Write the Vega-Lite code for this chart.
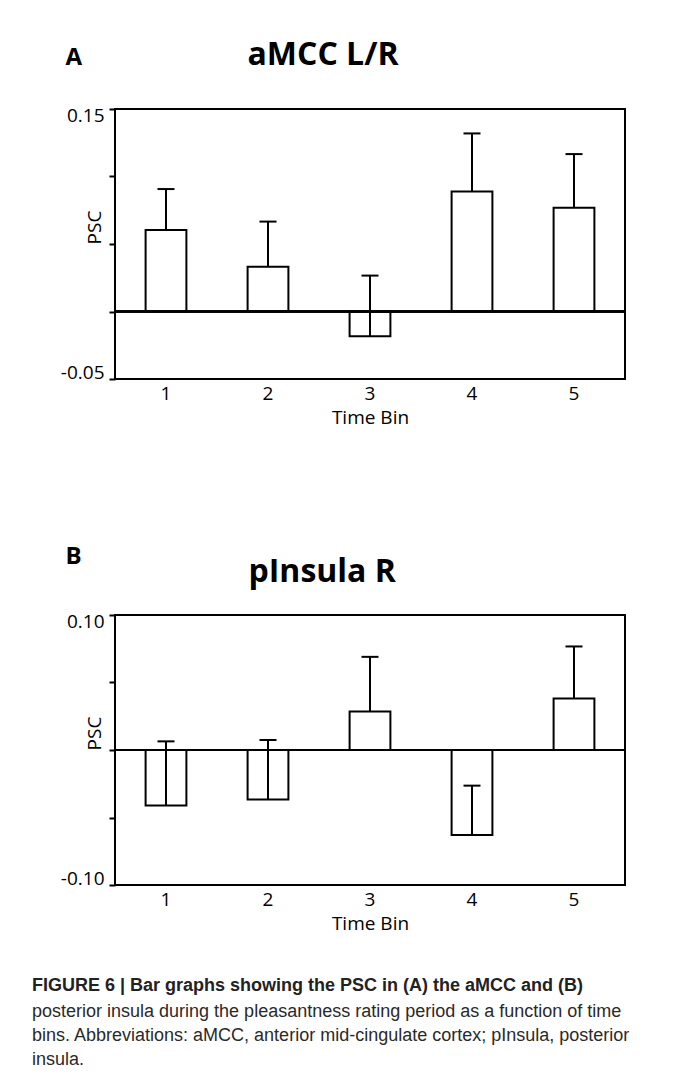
{
  "$schema": "https://vega.github.io/schema/vega-lite/v6.json",
  "background": "white",
  "padding": {"left": 32, "top": 37, "right": 10, "bottom": 3},
  "config": {
    "view": {"stroke": "black", "strokeWidth": 2},
    "font": "Open Sans",
    "axis": {
      "labelFont": "Open Sans", "labelFontSize": 19, "labelColor": "black",
      "titleFont": "Open Sans", "titleFontSize": 19, "titleFontWeight": "normal", "titleColor": "black",
      "grid": false
    }
  },
  "datasets": {
    "psc": [
      {"region": "A", "bin": 1, "psc": 0.0604, "upper": 0.0907},
      {"region": "A", "bin": 2, "psc": 0.0331, "upper": 0.0666},
      {"region": "A", "bin": 3, "psc": -0.0183, "upper": 0.0266},
      {"region": "A", "bin": 4, "psc": 0.0888, "upper": 0.1319},
      {"region": "A", "bin": 5, "psc": 0.0769, "upper": 0.1166},
      {"region": "B", "bin": 1, "psc": -0.0412, "upper": 0.0064},
      {"region": "B", "bin": 2, "psc": -0.0367, "upper": 0.0074},
      {"region": "B", "bin": 3, "psc": 0.0286, "upper": 0.0690},
      {"region": "B", "bin": 4, "psc": -0.0629, "upper": -0.0264},
      {"region": "B", "bin": 5, "psc": 0.0382, "upper": 0.0767}
    ]
  },
  "title": {
    "text": "FIGURE 6 | Bar graphs showing the PSC in (A) the aMCC and (B)",
    "subtitle": [
      "posterior insula during the pleasantness rating period as a function of time",
      "bins. Abbreviations: aMCC, anterior mid-cingulate cortex; pInsula, posterior",
      "insula."
    ],
    "orient": "bottom", "anchor": "start", "frame": "group", "dx": -83, "offset": 43,
    "font": "Liberation Sans", "fontSize": 18, "fontWeight": "bold", "color": "#222222",
    "subtitleFont": "Liberation Sans", "subtitleFontSize": 18, "subtitleFontWeight": "normal",
    "subtitleColor": "#2a2a2a", "subtitleLineHeight": 24, "subtitlePadding": 8
  },
  "spacing": 115,
  "vconcat": [
    {
      "width": 510, "height": 270,
      "data": {"name": "psc"},
      "transform": [{"filter": "datum.region == 'A'"}],
      "layer": [
        {
          "mark": {"type": "bar", "fill": "white", "stroke": "black", "strokeWidth": 2},
          "encoding": {
            "x": {"field": "bin", "type": "ordinal",
              "scale": {"paddingInner": 0.6, "paddingOuter": 0.3},
              "axis": {"orient": "bottom", "title": "Time Bin", "labelAngle": 0, "ticks": false, "tickSize": 0,
                "domain": false, "labelPadding": 5, "titlePadding": 5}},
            "y": {"field": "psc", "type": "quantitative",
              "scale": {"domain": [-0.05, 0.15], "nice": false},
              "axis": {"title": "PSC", "values": [-0.05, 0, 0.05, 0.1, 0.15],
                "labelExpr": "datum.value > 0.14 ? '0.15' : datum.value < -0.04 ? '-0.05' : ''",
                "labelFlush": true, "labelFlushOffset": 3,
                "domain": false, "tickSize": 6, "tickWidth": 2, "tickColor": "black", "labelPadding": 5,
                "titleX": -21, "titleY": 118, "titleAngle": -90, "titleBaseline": "middle", "titleAlign": "center"}},
            "y2": {"datum": 0}
          }
        },
        {
          "mark": {"type": "rule", "stroke": "black", "strokeWidth": 2},
          "encoding": {"y": {"datum": 0, "type": "quantitative",
            "axis": {"orient": "right", "title": "aMCC L/R", "labels": false, "ticks": false, "domain": false,
              "titleAngle": 0, "titleX": -378, "titleY": -45, "titleAlign": "left", "titleBaseline": "alphabetic",
              "titleFontSize": 32, "titleFontWeight": "bold"}}}
        },
        {
          "mark": {"type": "rule", "stroke": "black", "strokeWidth": 2},
          "encoding": {
            "x": {"field": "bin", "type": "ordinal", "axis": null},
            "y": {"field": "psc", "type": "quantitative", "axis": null},
            "y2": {"field": "upper"}
          }
        },
        {
          "mark": {"type": "tick", "color": "black", "size": 17, "thickness": 2, "opacity": 1},
          "encoding": {
            "x": {"field": "bin", "type": "ordinal",
              "axis": {"orient": "top", "title": "A", "labels": false, "ticks": false, "domain": false,
                "titleX": -50, "titleY": -45, "titleAlign": "left", "titleBaseline": "alphabetic",
                "titleFontSize": 24, "titleFontWeight": "bold", "titleAngle": 0}},
            "y": {"field": "upper", "type": "quantitative", "axis": null}
          }
        }
      ],
      "resolve": {"axis": {"x": "independent", "y": "independent"}}
    },
    {
      "width": 510, "height": 270,
      "data": {"name": "psc"},
      "transform": [{"filter": "datum.region == 'B'"}],
      "layer": [
        {
          "mark": {"type": "bar", "fill": "white", "stroke": "black", "strokeWidth": 2},
          "encoding": {
            "x": {"field": "bin", "type": "ordinal",
              "scale": {"paddingInner": 0.6, "paddingOuter": 0.3},
              "axis": {"orient": "bottom", "title": "Time Bin", "labelAngle": 0, "ticks": false, "tickSize": 0,
                "domain": false, "labelPadding": 5, "titlePadding": 5}},
            "y": {"field": "psc", "type": "quantitative",
              "scale": {"domain": [-0.1, 0.1], "nice": false},
              "axis": {"title": "PSC", "values": [-0.1, -0.05, 0, 0.05, 0.1],
                "labelExpr": "datum.value > 0.09 ? '0.10' : datum.value < -0.09 ? '-0.10' : ''",
                "labelFlush": true, "labelFlushOffset": 3,
                "domain": false, "tickSize": 6, "tickWidth": 2, "tickColor": "black", "labelPadding": 5,
                "titleX": -21, "titleY": 118, "titleAngle": -90, "titleBaseline": "middle", "titleAlign": "center"}},
            "y2": {"datum": 0}
          }
        },
        {
          "mark": {"type": "rule", "stroke": "black", "strokeWidth": 2},
          "encoding": {"y": {"datum": 0, "type": "quantitative",
            "axis": {"orient": "right", "title": "pInsula R", "labels": false, "ticks": false, "domain": false,
              "titleAngle": 0, "titleX": -377, "titleY": -34, "titleAlign": "left", "titleBaseline": "alphabetic",
              "titleFontSize": 32, "titleFontWeight": "bold"}}}
        },
        {
          "mark": {"type": "rule", "stroke": "black", "strokeWidth": 2},
          "encoding": {
            "x": {"field": "bin", "type": "ordinal", "axis": null},
            "y": {"field": "psc", "type": "quantitative", "axis": null},
            "y2": {"field": "upper"}
          }
        },
        {
          "mark": {"type": "tick", "color": "black", "size": 17, "thickness": 2, "opacity": 1},
          "encoding": {
            "x": {"field": "bin", "type": "ordinal",
              "axis": {"orient": "top", "title": "B", "labels": false, "ticks": false, "domain": false,
                "titleX": -50, "titleY": -52, "titleAlign": "left", "titleBaseline": "alphabetic",
                "titleFontSize": 24, "titleFontWeight": "bold", "titleAngle": 0}},
            "y": {"field": "upper", "type": "quantitative", "axis": null}
          }
        }
      ],
      "resolve": {"axis": {"x": "independent", "y": "independent"}}
    }
  ]
}
